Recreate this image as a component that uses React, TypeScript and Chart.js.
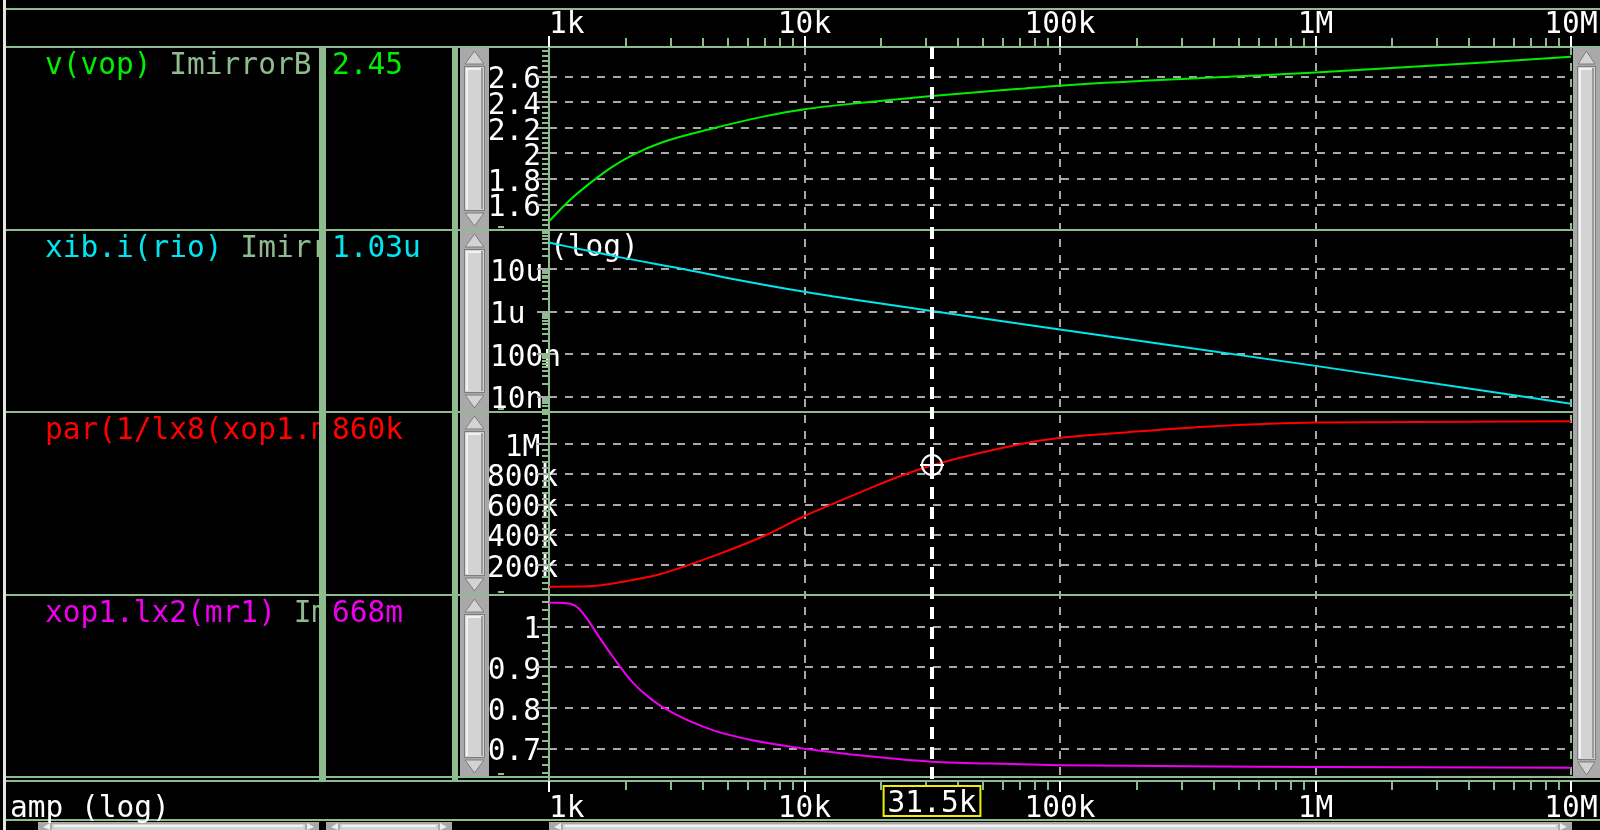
import React, { useEffect, useRef } from "react";
import { Chart, registerables } from "chart.js";

Chart.register(...registerables);

const W = 1600;
const H = 830;
const FONT_FAMILY = '"DejaVu Sans Mono", monospace';
const FONT_SIZE = 29.5;
const FONT = `${FONT_SIZE}px ${FONT_FAMILY}`;

const FRAME = "#8fbc8f";
const GRID = "#a8a8a8";
const EDGE = "#e4e4e4";
const SCROLL_BG = "#a9a9a9";
const SCROLL_LIGHT = "#d3d3d3";
const SCROLL_DARK = "#7c7c7c";

const PLOT_LEFT = 549;
const PLOT_RIGHT_PAD = 29;
const TOP_AXIS_H = 47;
const BOTTOM_AXIS_H = 53;

// ---------- x axis ----------
const xRange = [1e3, 1e7];
const xTickValues = [1e3, 1e4, 1e5, 1e6, 1e7];
const xTickLabels = ["  1k", "10k", "100k", "1M", "10M"];
const xMinorMultipliers = [2, 3, 4, 5, 6, 7, 8, 9];
const xAxisTitle = "amp (log)";

// ---------- series ----------
const vopFreq = [1000, 1210, 1460, 1750, 2110, 2780, 4400, 6970, 10000, 17500, 31500, 69500, 100000, 1000000, 4400000, 10000000];
const vopVals = [1.47, 1.638, 1.774, 1.89, 1.986, 2.088, 2.197, 2.29, 2.346, 2.4, 2.45, 2.505, 2.53, 2.633, 2.709, 2.756];

const ibFreq = [1000, 1160, 1640, 1880, 3500, 5000, 10000, 31500, 100000, 1000000, 10000000];
const ibVals = [4.2e-5, 3.45e-5, 2.25e-5, 1.9e-5, 9.5e-6, 6.15e-6, 2.91e-6, 1.03e-6, 3.8e-7, 5.3e-8, 6.8e-9];

const parFreq = [1000, 1300, 1600, 2000, 2780, 4400, 6970, 10000, 12900, 17500, 24200, 31500, 69700, 100000, 175000, 400000, 1000000, 10000000];
const parVals = [56e3, 57e3, 66e3, 92e3, 144e3, 259e3, 394e3, 525e3, 605e3, 700e3, 795e3, 860e3, 1.0e6, 1.043e6, 1.077e6, 1.12e6, 1.145e6, 1.152e6];

const lxFreq = [1000, 1150, 1220, 1290, 1390, 1570, 1770, 2110, 2530, 3050, 4400, 6350, 10000, 17500, 31500, 69500, 100000, 1000000, 10000000];
const lxVals = [1.059, 1.058, 1.056, 1.048, 1.025, 0.975, 0.928, 0.865, 0.82, 0.788, 0.745, 0.72, 0.7, 0.682, 0.668, 0.662, 0.6595, 0.655, 0.653];

// ---------- y axes ----------
const vopRange = [1.406, 2.832];
const vopTicks = [1.6, 1.8, 2, 2.2, 2.4, 2.6];
const vopTickLabels = ["1.6", "1.8", "2", "2.2", "2.4", "2.6"];

const ibRange = [4.37e-9, 8.47e-5];
const ibTicks = [1e-8, 1e-7, 1e-6, 1e-5];
const ibTickLabels = ["10n", "100n", "1u", "10u"];

const parRange = [4.5e3, 1.2141e6];
const parTicks = [2e5, 4e5, 6e5, 8e5, 1e6];
const parTickLabels = ["200k", "400k", "600k", "800k", "1M"];

const lxRange = [0.6304, 1.0792];
const lxTicks = [0.7, 0.8, 0.9, 1];
const lxTickLabels = ["0.7", "0.8", "0.9", "1"];

// ---------- legend / cursor ----------
const traceLabels = ["v(vop)", "xib.i(rio)", "par(1/lx8(xop1.mr1))", "xop1.lx2(mr1)"];
const sweepName = "ImirrorB";
const cursorReadouts = ["2.45", "1.03u", "860k", "668m"];
const traceColors = ["#00ee00", "#00e6ee", "#ff0000", "#ee00ee"];
const logAxisNote = "(log)";
const cursorFreq = 31500;
const cursorLabel = "31.5k";

const Y_IDS = ["y0", "y1", "y2", "y3"];

function pts(xs: number[], ys: number[]) {
  return xs.map((x, i) => ({ x, y: ys[i] }));
}

function drawVScroll(ctx: CanvasRenderingContext2D, x: number, w: number, top: number, bottom: number) {
  ctx.fillStyle = SCROLL_BG;
  ctx.fillRect(x, top, w, bottom - top);
  const cx = x + w / 2;
  const aw = w / 2 - 5;
  ctx.lineWidth = 1;
  ctx.beginPath();
  ctx.moveTo(cx, top + 3);
  ctx.lineTo(cx + aw, top + 16);
  ctx.lineTo(cx - aw, top + 16);
  ctx.closePath();
  ctx.fillStyle = SCROLL_LIGHT;
  ctx.fill();
  ctx.strokeStyle = SCROLL_DARK;
  ctx.stroke();
  const t0 = top + 18;
  const t1 = bottom - 18;
  ctx.fillStyle = SCROLL_LIGHT;
  ctx.fillRect(x + 4, t0, w - 8, t1 - t0);
  ctx.strokeStyle = SCROLL_DARK;
  ctx.strokeRect(x + 4.5, t0 + 0.5, w - 9, t1 - t0 - 1);
  ctx.fillStyle = "#f2f2f2";
  ctx.fillRect(x + 6, t0 + 2, 2, t1 - t0 - 4);
  ctx.fillRect(x + 6, t0 + 2, w - 12, 2);
  ctx.fillStyle = "#9a9a9a";
  ctx.fillRect(x + w - 8, t0 + 2, 2, t1 - t0 - 4);
  ctx.beginPath();
  ctx.moveTo(cx, bottom - 3);
  ctx.lineTo(cx + aw, bottom - 16);
  ctx.lineTo(cx - aw, bottom - 16);
  ctx.closePath();
  ctx.fillStyle = SCROLL_LIGHT;
  ctx.fill();
  ctx.strokeStyle = SCROLL_DARK;
  ctx.stroke();
}

function drawHScroll(ctx: CanvasRenderingContext2D, x0: number, x1: number, top: number) {
  ctx.fillStyle = SCROLL_BG;
  ctx.fillRect(x0, top, x1 - x0, H - top);
  ctx.fillStyle = SCROLL_LIGHT;
  ctx.fillRect(x0 + 14, top + 2, x1 - x0 - 28, H - top - 2);
  ctx.fillStyle = "#f2f2f2";
  ctx.fillRect(x0 + 16, top + 3, x1 - x0 - 32, 2);
  ctx.fillStyle = "#eeeeee";
  ctx.beginPath();
  ctx.moveTo(x0 + 5, top + 5);
  ctx.lineTo(x0 + 12, top + 1);
  ctx.lineTo(x0 + 12, H);
  ctx.closePath();
  ctx.fill();
  ctx.beginPath();
  ctx.moveTo(x1 - 5, top + 5);
  ctx.lineTo(x1 - 12, top + 1);
  ctx.lineTo(x1 - 12, H);
  ctx.closePath();
  ctx.fill();
}

const decorPlugin = {
  id: "decor",
  beforeDatasetsDraw(chart: any) {
    const ctx: CanvasRenderingContext2D = chart.ctx;
    const ca = chart.chartArea;
    const xs = chart.scales.x;
    const ys = Y_IDS.map((id) => chart.scales[id]);
    ctx.save();

    ctx.fillStyle = EDGE;
    ctx.fillRect(3, 0, 3, H);

    ctx.fillStyle = FRAME;
    ctx.fillRect(6, 8, W - 6, 2);
    ctx.fillRect(6, ca.top - 1, W - 6, 2);
    ys.forEach((s: any) => ctx.fillRect(6, Math.round(s.bottom) - 1, W - 6, 2));
    ctx.fillRect(6, ca.bottom + 3, W - 6, 2);
    ctx.fillRect(6, H - 11, W - 6, 2);

    ctx.fillRect(319, ca.top, 7, ca.bottom + 5 - ca.top);
    ctx.fillRect(452, ca.top, 6, ca.bottom + 5 - ca.top);

    ctx.fillRect(ca.left - 1, ca.top, 2, ca.bottom + 5 - ca.top);

    const xmin = xRange[0];
    const xmax = xRange[1];
    xTickValues.forEach((d) => {
      const px = Math.round(xs.getPixelForValue(d));
      ctx.fillStyle = "#ffffff";
      ctx.fillRect(px - 1, ca.top - 11, 2, 11);
      ctx.fillRect(px - 1, ca.bottom + 4, 2, 11);
      ctx.fillStyle = FRAME;
      xMinorMultipliers.forEach((m) => {
        const v = d * m;
        if (v < xmin || v > xmax) return;
        const p = Math.round(xs.getPixelForValue(v));
        ctx.fillRect(p - 1, ca.top - 9, 2, 8);
        ctx.fillRect(p - 1, ca.bottom + 5, 2, 8);
      });
    });

    const majorSets = [vopTicks, ibTicks, parTicks, lxTicks];
    ys.forEach((s: any, i: number) => {
      const majors = majorSets[i];
      const minors: number[] = [];
      if (i === 1) {
        for (let e = -9; e <= -4; e++) {
          for (let m = 1; m <= 9; m++) {
            const v = m * Math.pow(10, e);
            if (v >= s.min && v <= s.max) minors.push(v);
          }
        }
      } else {
        const step = (majors[1] - majors[0]) / 5;
        for (let k = Math.ceil(s.min / step); k * step <= s.max; k++) minors.push(k * step);
      }
      ctx.fillStyle = FRAME;
      minors.forEach((v) => {
        const py = Math.round(s.getPixelForValue(v));
        ctx.fillRect(ca.left - 7, py - 1, 6, 2);
      });
      ctx.fillStyle = GRID;
      majors.forEach((v) => {
        const py = Math.round(s.getPixelForValue(v));
        ctx.fillRect(ca.left - 12, py - 1, 11, 2);
      });
      ctx.fillStyle = FRAME;
      ctx.fillRect(498, Math.round(s.bottom) - 4, 6, 2);
    });

    ys.forEach((s: any) => drawVScroll(ctx, 460, 29, Math.round(s.top) + 1, Math.round(s.bottom) - 1));
    drawVScroll(ctx, ca.right + 2, W - ca.right - 2, ca.top + 1, ca.bottom + 1);

    drawHScroll(ctx, 38, 319, H - 8);
    drawHScroll(ctx, 326, 452, H - 8);
    drawHScroll(ctx, ca.left, ca.right + 1, H - 8);

    ctx.font = FONT;
    ctx.textBaseline = "alphabetic";
    ctx.textAlign = "left";
    ys.forEach((s: any, i: number) => {
      const base = Math.round(s.top) + 27;
      ctx.save();
      ctx.beginPath();
      ctx.rect(6, s.top, 313, s.bottom - s.top);
      ctx.clip();
      ctx.fillStyle = traceColors[i];
      const name = traceLabels[i] + " ";
      ctx.fillText(name, 45, base);
      const wName = ctx.measureText(name).width;
      ctx.fillStyle = FRAME;
      ctx.fillText(sweepName, 45 + wName, base);
      ctx.restore();
      ctx.fillStyle = traceColors[i];
      ctx.fillText(cursorReadouts[i], 332, base);
    });

    ctx.fillStyle = "#ffffff";
    ctx.fillText(logAxisNote, ca.left + 1, Math.round(ys[1].top) + 26);
    ctx.fillText(xAxisTitle, 10, H - 13);

    ctx.restore();
  },
  afterDraw(chart: any) {
    const ctx: CanvasRenderingContext2D = chart.ctx;
    const ca = chart.chartArea;
    const xs = chart.scales.x;
    const yPar = chart.scales.y2;
    const cx = Math.round(xs.getPixelForValue(cursorFreq));
    ctx.save();
    ctx.strokeStyle = "#ffffff";
    ctx.lineWidth = 4;
    ctx.setLineDash([12, 8]);
    ctx.beginPath();
    ctx.moveTo(cx, ca.top);
    ctx.lineTo(cx, ca.bottom + 4);
    ctx.stroke();
    ctx.setLineDash([]);
    const idx = parFreq.indexOf(cursorFreq);
    const cy = Math.round(yPar.getPixelForValue(parVals[idx]));
    ctx.lineWidth = 2;
    ctx.beginPath();
    ctx.arc(cx, cy, 10, 0, Math.PI * 2);
    ctx.stroke();
    ctx.fillStyle = "#ffffff";
    ctx.fillRect(cx - 12, cy - 1, 24, 2);
    ctx.fillRect(cx - 2, cy - 12, 4, 24);
    ctx.font = FONT;
    const tw = ctx.measureText(cursorLabel).width;
    const bx = cx - tw / 2 - 4;
    const bw = tw + 8;
    ctx.fillStyle = "#000000";
    ctx.fillRect(bx, 786, bw, 30);
    ctx.strokeStyle = "#f0f000";
    ctx.lineWidth = 2;
    ctx.strokeRect(bx, 786, bw, 30);
    ctx.fillStyle = "#ffffff";
    ctx.textAlign = "center";
    ctx.textBaseline = "alphabetic";
    ctx.fillText(cursorLabel, cx, 812);
    ctx.restore();
  },
};

function yScale(type: string, range: number[], ticks: number[], labels: string[], weight: number, tickOpts: any) {
  return {
    type,
    position: "left",
    stack: "panels",
    stackWeight: 1,
    weight,
    min: range[0],
    max: range[1],
    afterBuildTicks: (s: any) => {
      s.ticks = ticks.map((v) => ({ value: v }));
    },
    afterFit: (s: any) => {
      s.width = PLOT_LEFT;
      s.paddingTop = 0;
      s.paddingBottom = 0;
    },
    grid: { color: GRID, lineWidth: 2, drawTicks: false },
    border: { display: false, dash: [8, 8] },
    ticks: {
      autoSkip: false,
      color: "#ffffff",
      font: { family: FONT_FAMILY, size: FONT_SIZE },
      labelOffset: 4,
      callback: (_v: any, i: number) => labels[i],
      ...tickOpts,
    },
  };
}

function xScale(position: string, withGrid: boolean, height: number, padding: number) {
  return {
    type: "logarithmic",
    position,
    min: xRange[0],
    max: xRange[1],
    afterBuildTicks: (s: any) => {
      s.ticks = xTickValues.map((v) => ({ value: v }));
    },
    afterFit: (s: any) => {
      s.height = height;
      s.paddingLeft = 0;
      s.paddingRight = 0;
    },
    grid: withGrid
      ? {
          display: true,
          lineWidth: 2,
          drawTicks: false,
          color: (c: any) => {
            const v = c.tick ? c.tick.value : 0;
            if (v === xRange[0]) return "rgba(0,0,0,0)";
            if (v === xRange[1]) return FRAME;
            return GRID;
          },
        }
      : { display: false, drawTicks: false },
    border: { display: false, dash: [8, 8] },
    ticks: {
      autoSkip: false,
      maxRotation: 0,
      minRotation: 0,
      color: "#ffffff",
      padding,
      font: { family: FONT_FAMILY, size: FONT_SIZE },
      callback: (_v: any, i: number) => xTickLabels[i],
    },
  };
}

export default function App() {
  const ref = useRef<HTMLCanvasElement>(null);
  useEffect(() => {
    const canvas = ref.current;
    if (!canvas) return;
    const datasets = [
      { data: pts(vopFreq, vopVals), yAxisID: "y0" },
      { data: pts(ibFreq, ibVals), yAxisID: "y1" },
      { data: pts(parFreq, parVals), yAxisID: "y2" },
      { data: pts(lxFreq, lxVals), yAxisID: "y3" },
    ].map((d, i) => ({
      ...d,
      xAxisID: "x",
      borderColor: traceColors[i],
      backgroundColor: traceColors[i],
      borderWidth: 2,
      pointRadius: 0,
      fill: false,
      cubicInterpolationMode: "monotone",
    }));
    const chart = new Chart(canvas, {
      type: "line",
      data: { datasets } as any,
      options: {
        animation: false,
        responsive: false,
        devicePixelRatio: 1,
        events: [],
        layout: { padding: { left: 0, top: 0, right: PLOT_RIGHT_PAD, bottom: 0 } },
        plugins: { legend: { display: false }, tooltip: { enabled: false }, title: { display: false } },
        scales: {
          x: xScale("bottom", true, BOTTOM_AXIS_H, 15),
          x2: xScale("top", false, TOP_AXIS_H, 4),
          y0: yScale("linear", vopRange, vopTicks, vopTickLabels, 4, { crossAlign: "near", padding: 8 }),
          y1: yScale("logarithmic", ibRange, ibTicks, ibTickLabels, 3, { crossAlign: "near", mirror: true, padding: -59 }),
          y2: yScale("linear", parRange, parTicks, parTickLabels, 2, { crossAlign: "center", mirror: true, padding: -62 }),
          y3: yScale("linear", lxRange, lxTicks, lxTickLabels, 1, { crossAlign: "near", padding: 8 }),
        } as any,
      },
      plugins: [decorPlugin],
    } as any);
    return () => chart.destroy();
  }, []);
  return (
    <div style={{ position: "fixed", left: 0, top: 0, width: W, height: H, background: "#000", overflow: "hidden" }}>
      <canvas ref={ref} width={W} height={H} style={{ display: "block", width: W, height: H }} />
    </div>
  );
}
